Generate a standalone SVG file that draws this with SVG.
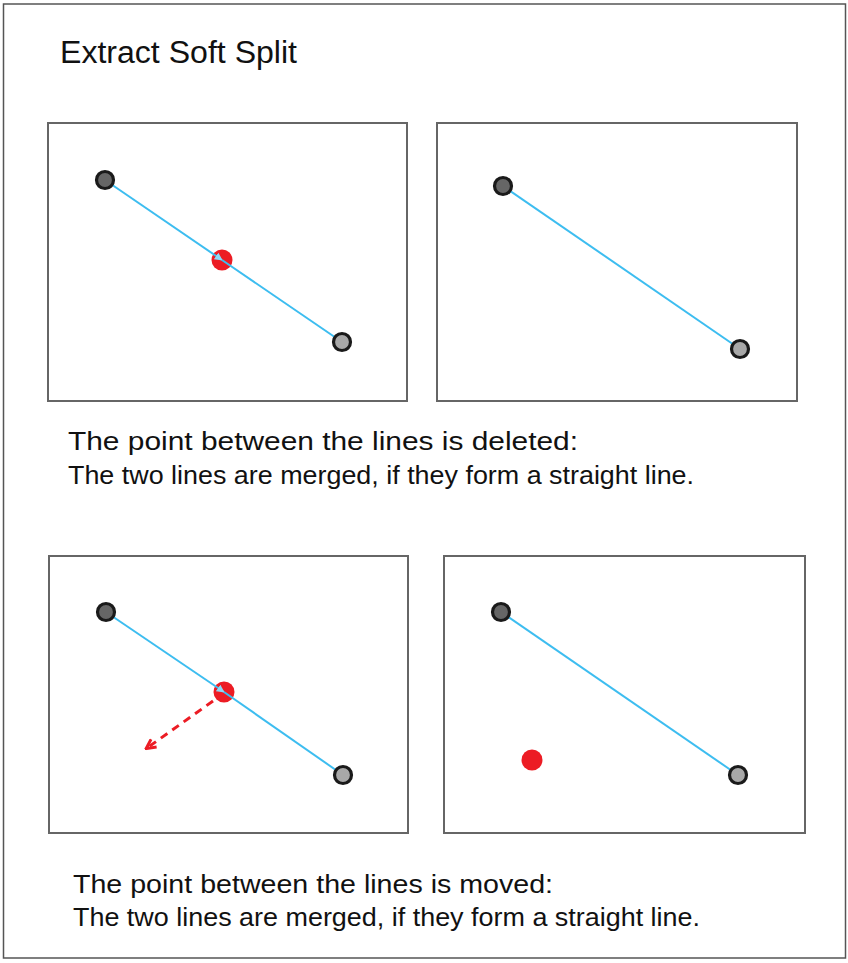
<svg xmlns="http://www.w3.org/2000/svg" width="848" height="963" viewBox="0 0 848 963">
<style>
.frame{fill:#fff;stroke:#555;stroke-width:1.5}
.panel{fill:#fff;stroke:#666;stroke-width:2}
.seg{stroke:#3dbdf0;stroke-width:2;fill:none}
.start{fill:#666;stroke:#1a1a1a;stroke-width:3.2}
.end{fill:#a8a8a8;stroke:#1a1a1a;stroke-width:3.2}
.red{fill:#ec1c24}
.t{font-family:"Liberation Sans",Arial,sans-serif;fill:#111}
.title{font-size:31px}
.body{font-size:25px}
.move{stroke:#ec1c24;stroke-width:3;stroke-dasharray:8 6;fill:none}
</style>
<defs>
<marker id="ab" viewBox="0 0 10 10" refX="9" refY="5" markerWidth="4" markerHeight="4" orient="auto" markerUnits="strokeWidth"><path d="M0,0 L10,5 L0,10 z" fill="#8fd8f5"/></marker>
<marker id="ar" viewBox="0 0 10 10" refX="8" refY="5" markerWidth="4" markerHeight="4" orient="auto" markerUnits="strokeWidth"><path d="M1,1 L9,5 L1,9" fill="none" stroke="#ec1c24" stroke-width="2.4"/></marker>
</defs>
<rect class="frame" x="3.5" y="4" width="842" height="954"/>
<text class="t title" x="60" y="63" textLength="237" lengthAdjust="spacingAndGlyphs">Extract Soft Split</text>

<g id="panel1">
<rect class="panel" x="48" y="123" width="359" height="278"/>
<circle class="red" cx="222" cy="260" r="10.5"/>
</g>
<g id="panel2">
<rect class="panel" x="437" y="123" width="360" height="278"/>
</g>
<g id="caption1">
<text class="t body" x="68" y="450" textLength="510" lengthAdjust="spacingAndGlyphs">The point between the lines is deleted:</text>
<text class="t body" x="68" y="484" textLength="626" lengthAdjust="spacingAndGlyphs">The two lines are merged, if they form a straight line.</text>
</g>
<g id="panel3">
<rect class="panel" x="49" y="556" width="359" height="277"/>
<circle class="red" cx="224" cy="692" r="10.5"/>
</g>
<g id="panel4">
<rect class="panel" x="444" y="556" width="361" height="277"/>
<circle class="red" cx="532" cy="760" r="10.5"/>
</g>
<g id="caption2">
<text class="t body" x="73" y="893" textLength="480" lengthAdjust="spacingAndGlyphs">The point between the lines is moved:</text>
<text class="t body" x="73" y="926" textLength="627" lengthAdjust="spacingAndGlyphs">The two lines are merged, if they form a straight line.</text>
</g>

<g id="connectors">
<line class="seg" x1="105" y1="180" x2="222" y2="260" marker-end="url(#ab)"/>
<line class="seg" x1="222" y1="260" x2="342" y2="342" marker-end="url(#ab)"/>
<line class="seg" x1="503" y1="186" x2="740" y2="349" marker-end="url(#ab)"/>
<line class="seg" x1="106" y1="612" x2="224" y2="692" marker-end="url(#ab)"/>
<line class="seg" x1="224" y1="692" x2="343" y2="775" marker-end="url(#ab)"/>
<line class="seg" x1="501" y1="612" x2="738" y2="775" marker-end="url(#ab)"/>
<line class="move" x1="213" y1="701" x2="147" y2="748" marker-end="url(#ar)"/>
</g>

<g id="points">
<circle class="start" cx="105" cy="180" r="8.5"/>
<circle class="end" cx="342" cy="342" r="8.5"/>
<circle class="start" cx="503" cy="186" r="8.5"/>
<circle class="end" cx="740" cy="349" r="8.5"/>
<circle class="start" cx="106" cy="612" r="8.5"/>
<circle class="end" cx="343" cy="775" r="8.5"/>
<circle class="start" cx="501" cy="612" r="8.5"/>
<circle class="end" cx="738" cy="775" r="8.5"/>
</g>
</svg>
